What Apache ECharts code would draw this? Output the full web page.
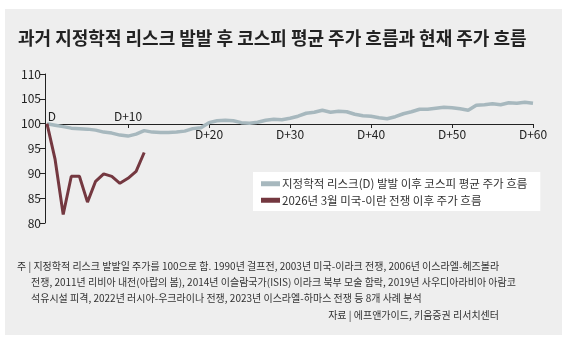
<!DOCTYPE html>
<html><head><meta charset="utf-8">
<script src="https://cdn.jsdelivr.net/npm/echarts@6/dist/echarts.min.js"></script>
<style>html,body{margin:0;padding:0;background:#fff}#c{width:573px;height:342px}</style>
</head><body><div id="c"></div>
<script>
var titleText = '과거 지정학적 리스크 발발 후 코스피 평균 주가 흐름과 현재 주가 흐름';
var days = [];
for (var i = 0; i <= 60; i++) days.push(i === 0 ? 'D' : 'D+' + i);
var pastAvg = [100.0,99.7,99.4,99.1,99.0,98.9,98.7,98.3,98.1,97.7,
  97.5,97.9,98.6,98.3,98.2,98.2,98.3,98.5,99.0,99.2,
  100.2,100.6,100.7,100.6,100.2,100.1,100.3,100.7,100.9,100.8,
  101.1,101.5,102.1,102.3,102.7,102.3,102.5,102.4,101.9,101.6,
  101.5,101.2,101.0,101.4,102.0,102.4,102.9,102.9,103.1,103.3,
  103.2,103.0,102.7,103.7,103.8,104.0,103.8,104.2,104.1,104.3,104.1];
var current2026 = [100,92.8,81.7,89.4,89.4,84.2,88.4,89.9,89.4,88.0,89.0,90.4,94.2];
var seriesNames = ['지정학적 리스크(D) 발발 이후 코스피 평균 주가 흐름','2026년 3월 미국-이란 전쟁 이후 주가 흐름'];
var yTicks = {min: 80, max: 110, interval: 5};
var noteLines = [
  '주 | 지정학적 리스크 발발일 주가를 100으로 함. 1990년 걸프전, 2003년 미국-이라크 전쟁, 2006년 이스라엘-헤즈볼라',
  '전쟁, 2011년 리비아 내전(아랍의 봄), 2014년 이슬람국가(ISIS) 이라크 북부 모술 함락, 2019년 사우디아라비아 아람코',
  '석유시설 피격, 2022년 러시아-우크라이나 전쟁, 2023년 이스라엘-하마스 전쟁 등 8개 사례 분석'
];
var sourceText = '자료 | 에프앤가이드, 키움증권 리서치센터';

var FONT = '"Noto Sans CJK KR", "Noto Sans", sans-serif';
var chart = echarts.init(document.getElementById('c'));
chart.setOption({
  backgroundColor: '#ffffff',
  animation: false,
  textStyle: {fontFamily: FONT},
  title: {
    text: titleText, left: 18, top: 28, padding: 0,
    textStyle: {fontFamily: FONT, fontSize: 18, fontWeight: 'bold', color: '#222', lineHeight: 20}
  },
  graphic: [
    {type: 'rect', z: -10, silent: true, shape: {x: 5, y: 9, width: 557, height: 326}, style: {fill: '#eeeeee'}},
    {type: 'text', left: 17, top: 261, style: {text: noteLines[0], font: '10px ' + FONT, fill: '#333'}},
    {type: 'text', left: 31, top: 277, style: {text: noteLines[1], font: '10px ' + FONT, fill: '#333'}},
    {type: 'text', left: 31, top: 293, style: {text: noteLines[2], font: '10px ' + FONT, fill: '#333'}},
    {type: 'text', right: 74, top: 310, style: {text: sourceText, font: '10px ' + FONT, fill: '#333'}}
  ],
  legend: {
    orient: 'vertical', left: 253, top: 172,
    backgroundColor: '#ffffff', padding: [6, 13, 5, 8], itemGap: 5,
    itemWidth: 19, itemHeight: 5, icon: 'rect',
    textStyle: {fontFamily: FONT, fontSize: 11.5, color: '#333', padding: [0, 0, 0, -3]},
    data: seriesNames
  },
  grid: {left: 47, right: 40, top: 74, bottom: 119, containLabel: false},
  xAxis: [{
    type: 'category', data: days, boundaryGap: false, position: 'bottom', offset: -99,
    axisLine: {show: true, lineStyle: {color: '#222', width: 1}},
    axisTick: {show: true, length: 4, lineStyle: {color: '#222'}, interval: function (i) { return i % 10 === 0 && i > 0; }},
    axisLabel: {interval: function (i) { return i % 10 === 0 && i >= 20; }, fontSize: 12, color: '#222', margin: 4, fontFamily: FONT},
    splitLine: {show: false}
  }, {
    type: 'category', data: days, boundaryGap: false, position: 'top', offset: -50,
    axisLine: {show: false}, axisTick: {show: false},
    axisLabel: {
      interval: function (i) { return i === 0 || i === 10; }, fontSize: 12, color: '#222', margin: 2, fontFamily: FONT,
      formatter: function (v, i) { return i === 0 ? '{d|' + v + '}' : v; },
      rich: {d: {padding: [0, 0, 0, 10], fontSize: 12, color: '#222', fontFamily: FONT}}
    },
    splitLine: {show: false}
  }],
  yAxis: {
    type: 'value', min: yTicks.min, max: yTicks.max, interval: yTicks.interval, offset: 2,
    axisLine: {show: true, lineStyle: {color: '#222', width: 1}},
    axisTick: {show: true, length: 5, lineStyle: {color: '#222'}},
    axisLabel: {fontSize: 12, color: '#222', margin: 4, fontFamily: FONT},
    splitLine: {show: false}
  },
  series: [{
    name: seriesNames[0], type: 'line', data: pastAvg, showSymbol: false, symbol: 'none',
    lineStyle: {color: '#a7b8be', width: 3.5}, itemStyle: {color: '#a7b8be'}, z: 3
  }, {
    name: seriesNames[1], type: 'line', data: current2026, showSymbol: false, symbol: 'none',
    lineStyle: {color: '#743840', width: 3}, itemStyle: {color: '#743840'}, z: 4
  }]
});
</script></body></html>
